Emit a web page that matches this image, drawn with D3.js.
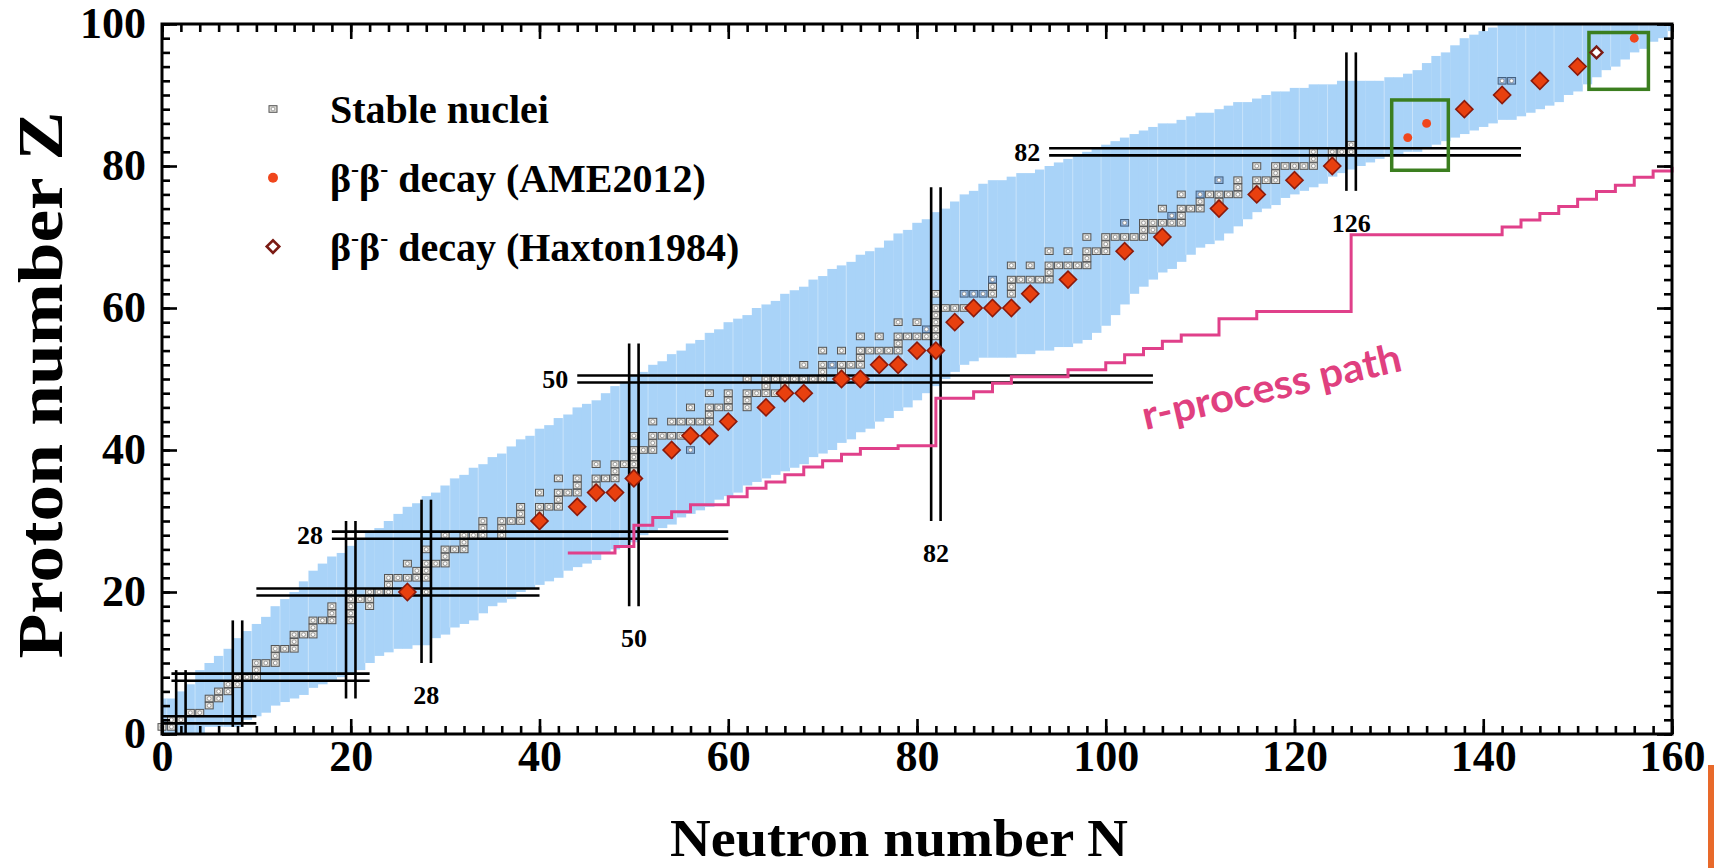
<!DOCTYPE html>
<html>
<head>
<meta charset="utf-8">
<script src="https://cdn.jsdelivr.net/npm/d3@7/dist/d3.min.js"></script>
<style>
  body { margin: 0; background: #fff; }
  svg { display: block; }
</style>
</head>
<body>
<svg width="1714" height="868"></svg>
<script>
// axis ranges and ticks
const nDomain = [0, 160];
const zDomain = [0, 100];
const nMajorTicks = d3.range(0, 161, 20);
const zMajorTicks = d3.range(0, 101, 20);
const nMinorTicks = d3.range(0, 161, 2);
const zMinorTicks = d3.range(0, 101, 2);

// light blue band: lowest / highest Z edge of the column at each N = 0..160
const bandLow = [
  0, 0, 0, 0, 0, 1, 1, 1, 1, 2,
  2.5, 3, 4, 4.5, 5, 5.5, 6.5, 7, 7.5, 8,
  8.5, 9, 10, 11, 11.5, 12, 12, 12.5, 12.5, 13.5,
  14, 15, 15.5, 16, 17, 18, 18.5, 19, 20, 20.5,
  21, 21.5, 22, 23, 23.5, 24, 24.5, 25.5, 26, 26.5,
  27, 28, 28.5, 29, 29.5, 30.5, 31, 31.5, 32, 33,
  33.5, 34, 35, 35.5, 36, 36.5, 37, 37.5, 38, 39,
  39.5, 40, 41, 41.5, 42.5, 43, 44, 44.5, 45.5, 46,
  47, 48, 49, 50, 51, 52, 52.5, 53, 53, 53,
  53, 53.5, 53.5, 54, 54, 54.5, 54.5, 55, 55.5, 56.5,
  57.5, 59, 60.5, 62, 63, 64, 65, 65.5, 66.5, 67.5,
  68.5, 69, 69.5, 70.5, 71.5, 72.5, 73.5, 74, 74.5, 75.5,
  76, 76.5, 77, 77.5, 78.5, 79, 79.5, 80, 80.5, 81,
  81.5, 81.5, 82, 82, 82.5, 83, 83.5, 84, 84.5, 85,
  85.5, 86, 86.5, 86.5, 87, 87.5, 88, 88.5, 89, 90,
  90.5, 91.5, 92.5, 93.5, 94, 95, 96, 96.5, 97.5, 98,
  99
];
const bandHigh = [
  5, 5, 6, 7, 9, 10, 11, 12, 13.5, 14.5,
  15.5, 16.5, 18, 19, 20, 21.5, 23, 24, 25, 25.5,
  26.5, 27.5, 28.5, 29, 30, 31, 32, 32.5, 33.5, 34,
  35, 36, 36.5, 37.5, 38, 39, 39.5, 40.5, 41.5, 42,
  43, 43.5, 44.5, 45, 46, 46.5, 47, 48, 49, 49.5,
  50.5, 51, 52, 52.5, 53.5, 54, 55, 55.5, 56.5, 57,
  58, 58.5, 59, 60, 60.5, 61, 62, 62.5, 63, 64,
  64.5, 65.5, 66, 66.5, 67.5, 68, 68.5, 69.5, 70.5, 71,
  72, 72.5, 73.5, 74, 75, 76, 76.5, 77.5, 78, 78,
  78.5, 79, 79, 79.5, 80, 80.5, 81, 81.5, 82, 82.5,
  83, 83.5, 84, 84.5, 85, 85.5, 86, 86, 86.5, 87,
  87.5, 87.5, 88, 88.5, 89, 89, 89.5, 90, 90.5, 90.5,
  91, 91, 91.5, 91.5, 91.5, 92, 92, 92, 92, 92,
  92.5, 92.5, 93, 93.5, 94.5, 95.5, 96, 97, 98, 98.5,
  99, 99.5, 101, 101, 101, 101, 101, 101, 101, 101,
  101, 101, 101, 101, 101, 101, 101, 101, 101, 101,
  101
];

// stable nuclei: [Z, neutron numbers]
const stableByZ = [
  [1, [0, 1]], [2, [1, 2]], [3, [3, 4]], [4, [5]], [5, [5, 6]], [6, [6, 7]], [7, [7, 8]],
  [8, [8, 9, 10]], [9, [10]], [10, [10, 11, 12]], [11, [12]], [12, [12, 13, 14]], [13, [14]],
  [14, [14, 15, 16]], [15, [16]], [16, [16, 17, 18, 20]], [17, [18, 20]], [18, [18, 20, 22]],
  [19, [20, 21, 22]], [20, [20, 22, 23, 24, 26, 28]], [21, [24]], [22, [24, 25, 26, 27, 28]],
  [23, [27, 28]], [24, [26, 28, 29, 30]], [25, [30]], [26, [28, 30, 31, 32]], [27, [32]],
  [28, [30, 32, 33, 34, 36]], [29, [34, 36]], [30, [34, 36, 37, 38, 40]], [31, [38, 40]],
  [32, [38, 40, 41, 42, 44]], [33, [42]], [34, [40, 42, 43, 44, 46, 48]], [35, [44, 46]],
  [36, [42, 44, 46, 47, 48, 50]], [37, [48, 50]], [38, [46, 48, 49, 50]], [39, [50]],
  [40, [50, 51, 52, 54, 56]], [41, [52]], [42, [50, 52, 53, 54, 55, 56, 58]],
  [44, [52, 54, 55, 56, 57, 58, 60]], [45, [58]], [46, [56, 58, 59, 60, 62, 64]], [47, [60, 62]],
  [48, [58, 60, 62, 63, 64, 65, 66, 68]], [49, [64, 66]], [50, [62, 64, 65, 66, 67, 68, 69, 70, 72, 74]],
  [51, [70, 72]], [52, [68, 70, 71, 72, 73, 74, 76, 78]], [53, [74]],
  [54, [70, 72, 74, 75, 76, 77, 78, 80, 82]], [55, [78]], [56, [74, 76, 78, 79, 80, 81, 82]],
  [57, [81, 82]], [58, [78, 80, 82, 84]], [59, [82]], [60, [82, 83, 84, 85, 86, 88, 90]],
  [62, [82, 85, 86, 87, 88, 90, 92]], [63, [88, 90]], [64, [88, 90, 91, 92, 93, 94, 96]], [65, [94]],
  [66, [90, 92, 94, 95, 96, 97, 98]], [67, [98]], [68, [94, 96, 98, 99, 100, 102]], [69, [100]],
  [70, [98, 100, 101, 102, 103, 104, 106]], [71, [104, 105]], [72, [102, 104, 105, 106, 107, 108]],
  [73, [107, 108]], [74, [106, 108, 109, 110, 112]], [75, [110, 112]],
  [76, [108, 110, 111, 112, 113, 114, 116]], [77, [114, 116]], [78, [112, 114, 116, 117, 118, 120]],
  [79, [118]], [80, [116, 118, 119, 120, 121, 122, 124]], [81, [122, 124]], [82, [122, 124, 125, 126]],
  [83, [126]], [90, [142]], [92, [142, 143, 146]]
];
// stable-list entries drawn with a bluish square: [N, Z]
const longLived = [[56, 40], [71, 52], [81, 57], [85, 62], [86, 62], [87, 62], [88, 64],
  [102, 72], [107, 73], [110, 76], [112, 78], [142, 92], [143, 92]];

// double beta decay candidates: [N, Z]
const bbAME2012 = [
  [26, 20], [40, 30], [44, 32], [46, 34], [48, 34], [50, 36], [54, 40], [56, 42], [58, 42], [60, 44],
  [64, 46], [66, 48], [68, 48], [72, 50], [74, 50], [76, 52], [78, 52], [80, 54], [82, 54], [84, 58],
  [86, 60], [88, 60], [90, 60], [92, 62], [96, 64], [102, 68], [106, 70], [112, 74], [116, 76],
  [120, 78], [124, 80], [132, 84], [134, 86], [138, 88], [142, 90], [146, 92], [150, 94], [156, 98]
];
const bbHaxton1984 = [
  [26, 20], [40, 30], [44, 32], [46, 34], [48, 34], [50, 36], [54, 40], [56, 42], [58, 42], [60, 44],
  [64, 46], [66, 48], [68, 48], [72, 50], [74, 50], [76, 52], [78, 52], [80, 54], [82, 54], [84, 58],
  [86, 60], [88, 60], [90, 60], [92, 62], [96, 64], [102, 68], [106, 70], [112, 74], [116, 76],
  [120, 78], [124, 80], [138, 88], [142, 90], [146, 92], [150, 94], [152, 96]
];

// magic numbers: horizontal (fixed Z) and vertical (fixed N) double lines
const magicZ = [2, 8, 20, 28, 50, 82];
const magicZSpanN = [[0, 10], [1, 22], [10, 40], [18, 60], [44, 105], [94, 144]];
const magicZLabelled = [false, false, false, true, true, true];
const magicN = [2, 8, 20, 28, 50, 82, 126];
const magicNSpanZ = [[0, 9], [1, 16], [5, 30], [10, 33], [18, 55], [30, 77], [76.5, 96]];
const magicNLabelled = [false, false, false, true, true, true, true];

// r-process path (step after each point)
const rPathN = [43, 48, 50, 52, 54, 56, 60, 62, 64, 66, 68, 70, 72, 74, 78, 82, 86, 88, 90, 96,
  100, 102, 104, 106, 108, 112, 116, 126, 142, 144, 146, 148, 150, 152, 154, 156, 158, 160];
const rPathZ = [25.5, 26.4, 29.4, 30.5, 31.3, 32.3, 33.4, 34.6, 35.5, 36.5, 37.6, 38.5, 39.4, 40.2, 40.6,
  47.3, 48.2, 49.4, 50.3, 51.3, 52.3, 53.4, 54.3, 55.3, 56.2, 58.5, 59.5, 70.3, 71.4, 72.4, 73.3,
  74.3, 75.3, 76.4, 77.3, 78.4, 79.3, 79.9];

// highlighted regions: [N from, N to, Z from, Z to]
const greenBoxes = [[130.3, 136.3, 79.4, 89.3], [151.2, 157.5, 90.8, 98.8]];

const legendLabels = ['Stable nuclei', 'decay (AME2012)', 'decay (Haxton1984)'];

const serif = "'Liberation Serif', 'Times New Roman', serif";
const svg = d3.select('svg');

const x = d3.scaleLinear().domain(nDomain).range([162, 1672]);
const y = d3.scaleLinear().domain(zDomain).range([734, 24]);
const unitW = x(1) - x(0);

svg.append('defs').append('clipPath').attr('id', 'plotClip')
  .append('rect')
  .attr('x', x(0)).attr('y', y(100))
  .attr('width', x(160) - x(0)).attr('height', y(0) - y(100));

const styleTicks = g => {
  g.select('.domain').remove();
  g.selectAll('.tick line').attr('stroke', '#000').attr('stroke-width', 2.6);
};

// top ticks sit under the band (the band hides them on the right)
svg.append('g').attr('transform', `translate(0,${y(100)})`)
  .call(d3.axisTop(x).tickValues(nMinorTicks).tickSize(-8).tickFormat(''))
  .call(styleTicks);
svg.append('g').attr('transform', `translate(0,${y(100)})`)
  .call(d3.axisTop(x).tickValues(nMajorTicks).tickSize(-15).tickFormat(''))
  .call(styleTicks);

// band
const bandG = svg.append('g').attr('clip-path', 'url(#plotClip)');
bandG.selectAll('rect').data(bandLow).join('rect')
  .attr('x', (d, n) => x(n - 0.5))
  .attr('width', unitW + 0.4)
  .attr('y', (d, n) => y(bandHigh[n]))
  .attr('height', (d, n) => y(d) - y(bandHigh[n]))
  .attr('fill', '#a9d3f8');
// faint seams between some columns, as in the original raster
bandG.selectAll('line').data(bandLow.filter((d, n) => n % 3 === 1)).join('line')
  .attr('x1', (d, i) => x(i * 3 + 0.5)).attr('x2', (d, i) => x(i * 3 + 0.5))
  .attr('y1', (d, i) => y(bandHigh[i * 3 + 1])).attr('y2', (d, i) => y(Math.max(d, bandLow[i * 3])))
  .attr('stroke', '#fff').attr('stroke-opacity', 0.35).attr('stroke-width', 1);

// stable nuclei
const stablePoints = stableByZ.flatMap(([z, ns]) => ns.map(n => [n, z]));
const isLong = (n, z) => longLived.some(p => p[0] === n && p[1] === z);
const drawStable = (sel) => {
  sel.append('rect')
    .attr('x', -4).attr('y', -3.3).attr('width', 8).attr('height', 6.6)
    .attr('fill', d => isLong(d[0], d[1]) ? '#8fb2dc' : '#dedcd6')
    .attr('stroke', d => isLong(d[0], d[1]) ? '#44607f' : '#555')
    .attr('stroke-width', 1);
  sel.append('circle').attr('r', 1.9)
    .attr('fill', '#fff').attr('stroke', '#8a8a8a').attr('stroke-width', 0.8);
};
svg.append('g').selectAll('g').data(stablePoints).join('g')
  .attr('transform', d => `translate(${x(d[0])},${y(d[1])})`)
  .call(drawStable);

// magic number lines
const magicG = svg.append('g').attr('stroke', '#000').attr('stroke-width', 2.6);
magicZ.forEach((m, i) => {
  [m - 0.5, m + 0.5].forEach(z => {
    magicG.append('line')
      .attr('x1', x(magicZSpanN[i][0])).attr('x2', x(magicZSpanN[i][1]))
      .attr('y1', y(z)).attr('y2', y(z));
  });
  if (magicZLabelled[i]) {
    svg.append('text')
      .attr('x', x(magicZSpanN[i][0]) - 9).attr('y', y(m))
      .attr('dy', '0.35em').attr('text-anchor', 'end')
      .attr('font-family', serif).attr('font-weight', 'bold').attr('font-size', 26)
      .text(m);
  }
});
magicN.forEach((m, i) => {
  [m - 0.5, m + 0.5].forEach(n => {
    magicG.append('line')
      .attr('x1', x(n)).attr('x2', x(n))
      .attr('y1', y(magicNSpanZ[i][0])).attr('y2', y(magicNSpanZ[i][1]));
  });
  if (magicNLabelled[i]) {
    svg.append('text')
      .attr('x', x(m)).attr('y', y(magicNSpanZ[i][0]) + 32)
      .attr('dy', '0.35em').attr('text-anchor', 'middle')
      .attr('font-family', serif).attr('font-weight', 'bold').attr('font-size', 26)
      .text(m);
  }
});

// r-process path
const rLine = d3.line().curve(d3.curveStepAfter).x(d => x(d[0])).y(d => y(d[1]));
svg.append('path')
  .datum(rPathN.map((n, i) => [n, rPathZ[i]]))
  .attr('d', rLine)
  .attr('fill', 'none').attr('stroke', '#e0408a').attr('stroke-width', 3);

svg.append('text')
  .attr('transform', `translate(${x(104.2)},${y(42.8)}) rotate(-13)`)
  .attr('font-family', "Lato, 'Open Sans', sans-serif").attr('font-weight', 'bold')
  .attr('font-size', 40).attr('fill', '#e0407f')
  .attr('textLength', 265).attr('lengthAdjust', 'spacingAndGlyphs')
  .text('r-process path');

// green boxes
svg.append('g').selectAll('rect').data(greenBoxes).join('rect')
  .attr('x', d => x(d[0])).attr('width', d => x(d[1]) - x(d[0]))
  .attr('y', d => y(d[3])).attr('height', d => y(d[2]) - y(d[3]))
  .attr('fill', 'none').attr('stroke', '#3b7e1f').attr('stroke-width', 3.5);

// double beta decay markers
const key = p => p[0] + ',' + p[1];
const haxSet = new Set(bbHaxton1984.map(key));
const ameSet = new Set(bbAME2012.map(key));
const both = bbAME2012.filter(p => haxSet.has(key(p)));
const ameOnly = bbAME2012.filter(p => !haxSet.has(key(p)));
const haxOnly = bbHaxton1984.filter(p => !ameSet.has(key(p)));

const bigDiamond = d3.symbol().type(d3.symbolSquare).size(146)();
const smallDiamond = d3.symbol().type(d3.symbolSquare).size(70)();
const dot = d3.symbol().type(d3.symbolCircle).size(62)();

svg.append('g').selectAll('path').data(both).join('path')
  .attr('d', bigDiamond)
  .attr('transform', d => `translate(${x(d[0])},${y(d[1])}) rotate(45)`)
  .attr('fill', '#e8400f').attr('stroke', '#8a1a0c').attr('stroke-width', 1.6);
svg.append('g').selectAll('path').data(haxOnly).join('path')
  .attr('d', smallDiamond)
  .attr('transform', d => `translate(${x(d[0])},${y(d[1])}) rotate(45)`)
  .attr('fill', '#fff').attr('stroke', '#7b1b14').attr('stroke-width', 2.4);
svg.append('g').selectAll('path').data(ameOnly).join('path')
  .attr('d', dot)
  .attr('transform', d => `translate(${x(d[0])},${y(d[1])})`)
  .attr('fill', '#f0461c');

// remaining axes (ticks inward)
svg.append('g').attr('transform', `translate(${x(0)},0)`)
  .call(d3.axisLeft(y).tickValues(zMinorTicks).tickSize(-8).tickFormat('')).call(styleTicks);
const leftMajor = svg.append('g').attr('transform', `translate(${x(0)},0)`)
  .call(d3.axisLeft(y).tickValues(zMajorTicks).tickSize(-15).tickPadding(16)).call(styleTicks);
svg.append('g').attr('transform', `translate(${x(160)},0)`)
  .call(d3.axisRight(y).tickValues(zMinorTicks).tickSize(-8).tickFormat('')).call(styleTicks);
svg.append('g').attr('transform', `translate(${x(160)},0)`)
  .call(d3.axisRight(y).tickValues(zMajorTicks).tickSize(-15).tickFormat('')).call(styleTicks);
svg.append('g').attr('transform', `translate(0,${y(0)})`)
  .call(d3.axisBottom(x).tickValues(nMinorTicks).tickSize(-8).tickFormat('')).call(styleTicks);
const bottomMajor = svg.append('g').attr('transform', `translate(0,${y(0)})`)
  .call(d3.axisBottom(x).tickValues(nMajorTicks).tickSize(-15).tickPadding(6)).call(styleTicks);

[leftMajor, bottomMajor].forEach(g => {
  g.attr('font-family', serif).attr('font-size', 44).attr('font-weight', 'bold');
  g.selectAll('.tick text').attr('fill', '#000');
});
leftMajor.selectAll('.tick text').attr('dy', '0.3em');

// frame
svg.append('rect')
  .attr('x', x(0)).attr('y', y(100))
  .attr('width', x(160) - x(0)).attr('height', y(0) - y(100))
  .attr('fill', 'none').attr('stroke', '#000').attr('stroke-width', 3);

// axis titles
svg.append('text')
  .attr('x', 899).attr('y', 856).attr('text-anchor', 'middle')
  .attr('font-family', serif).attr('font-weight', 'bold').attr('font-size', 52)
  .attr('textLength', 458).attr('lengthAdjust', 'spacingAndGlyphs')
  .text('Neutron number N');
svg.append('text')
  .attr('transform', 'translate(62,385) rotate(-90)').attr('text-anchor', 'middle')
  .attr('font-family', serif).attr('font-weight', 'bold').attr('font-size', 64)
  .attr('textLength', 547).attr('lengthAdjust', 'spacingAndGlyphs')
  .text('Proton number Z');

// legend
const legend = svg.append('g').attr('transform', 'translate(273,109)');
const legendRow = 68.8;
legend.append('g').datum([0, 0]).call(drawStable);
legend.append('path').attr('d', d3.symbol().type(d3.symbolCircle).size(78)())
  .attr('transform', `translate(0,${legendRow})`).attr('fill', '#f0461c');
legend.append('path').attr('d', d3.symbol().type(d3.symbolSquare).size(78)())
  .attr('transform', `translate(0,${2 * legendRow}) rotate(45)`)
  .attr('fill', '#fff').attr('stroke', '#7b1b14').attr('stroke-width', 2.6);

legendLabels.forEach((label, i) => {
  const t = legend.append('text')
    .attr('x', 57).attr('y', i * legendRow + 14)
    .attr('font-family', serif).attr('font-weight', 'bold').attr('font-size', 40);
  if (i === 0) { t.text(label); return; }
  t.append('tspan').text('β');
  t.append('tspan').attr('dy', -15).attr('font-size', 24).text('-');
  t.append('tspan').attr('dy', 15).text('β');
  t.append('tspan').attr('dy', -15).attr('font-size', 24).text('-');
  t.append('tspan').attr('dy', 15).text(' ' + label);
});

// orange edge strip seen at the bottom right of the picture
svg.append('rect').attr('x', 1708).attr('y', 765).attr('width', 6).attr('height', 103).attr('fill', '#e8692a');
</script>
</body>
</html>
